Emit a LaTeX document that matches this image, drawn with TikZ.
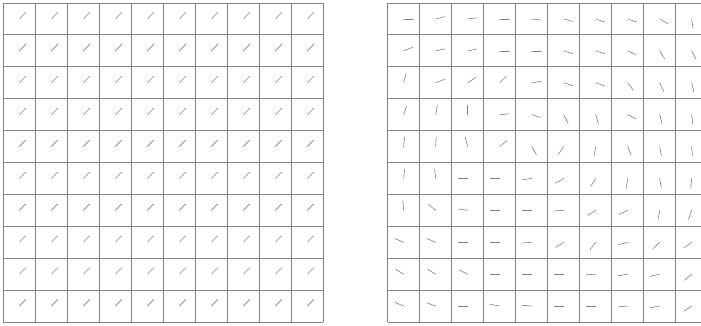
\documentclass[tikz,border=0pt]{standalone}
\usepackage{tikz}

\begin{document}
\begin{tikzpicture}[x=1pt, y=1pt]
    \tikzstyle{gridline} = [draw=black!50, line width=0.8pt]
    \tikzstyle{needle}   = [draw=black!50, line width=0.6pt, line cap=round]
    \def\cw{32}
    \def\ch{31.9}
    \def\len{9.5}

    \path[use as bounding box, clip] (0,0) rectangle (701,326);

    % Left grid: uniform field
    \foreach \i in {0,...,10} {
        \draw [gridline] (3.3+\i*\cw, 4) -- (3.3+\i*\cw, 323);
        \draw [gridline] (3.3, 4+\i*\ch) -- (323.3, 4+\i*\ch);
    }
    \foreach \r in {0,...,9}
        \foreach \c in {0,...,9}
            \draw [needle] (3.3+\c*\cw+0.5*\cw, 4+\r*\ch+0.5*\ch) -- ++(45:\len);

    % Right grid: varying field
    \foreach \i in {0,...,10} {
        \draw [gridline] (387.7+\i*\cw, 4) -- (387.7+\i*\cw, 323);
        \draw [gridline] (387.7, 4+\i*\ch) -- (707.7, 4+\i*\ch);
    }
    \foreach \r/\angs in {
        0/{0,14,7,0,-7,-15,-19,-19,-30,-82},
        1/{22,12,11,0,0,-18,-18,-26,-58,-62},
        2/{76,22,33,45,9,-18,-20,-54,-65,-77},
        3/{72,80,90,5,-17,-63,-73,-27,-75,-84},
        4/{85,87,105,39,-60,-125,-100,-68,-80,-86},
        5/{85,97,180,180,188,210,238,262,280,264},
        6/{95,141,172,180,180,184,212,205,260,250},
        7/{157,157,180,180,185,212,233,195,224,216},
        8/{150,150,155,180,180,180,184,190,193,220},
        9/{157,160,180,170,175,180,180,185,190,213}} {
        \foreach \a [count=\c from 0] in \angs
            \draw [needle] (387.7+\c*\cw+0.5*\cw, 323-\r*\ch-0.5*\ch) -- ++(\a:\len);
    }
\end{tikzpicture}
\end{document}
